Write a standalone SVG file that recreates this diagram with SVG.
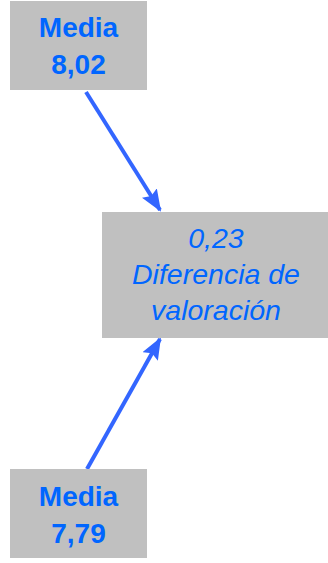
<svg xmlns="http://www.w3.org/2000/svg" width="328" height="563" viewBox="0 0 328 563">
<style>
.box{fill:#C0C0C0}
.b{font-family:"Liberation Sans",Arial,sans-serif;font-weight:bold;font-size:28px;fill:#0066FF;text-anchor:middle}
.i{font-family:"Liberation Sans",Arial,sans-serif;font-style:italic;font-size:28.5px;fill:#0066FF;text-anchor:middle}
.c{stroke:#3366FF;stroke-width:4;fill:none;marker-end:url(#ah)}
</style>
<defs>
<marker id="ah" markerWidth="5.5" markerHeight="4.4" refX="5" refY="2.2" orient="auto" markerUnits="strokeWidth">
<path d="M0,0 L5.5,2.2 L0,4.4 L0.9,2.2 Z" fill="#3366FF"/>
</marker>
</defs>
<rect width="328" height="563" fill="#fff"/>
<g id="connectors">
<line class="c" x1="86" y1="92" x2="160" y2="210"/>
<line class="c" x1="87" y1="469" x2="160" y2="339"/>
</g>
<g id="top">
<rect class="box" x="10" y="1" width="137" height="89"/>
<text class="b" x="78.5" y="37">Media</text>
<text class="b" x="78.5" y="74">8,02</text>
</g>
<g id="diff">
<rect class="box" x="102" y="212" width="226" height="126"/>
<text class="i" x="216" y="248">0,23</text>
<text class="i" x="216" y="284">Diferencia de</text>
<text class="i" x="216" y="320">valoración</text>
</g>
<g id="bottom">
<rect class="box" x="10" y="469" width="137" height="89"/>
<text class="b" x="78.5" y="506">Media</text>
<text class="b" x="78.5" y="543">7,79</text>
</g>
</svg>
